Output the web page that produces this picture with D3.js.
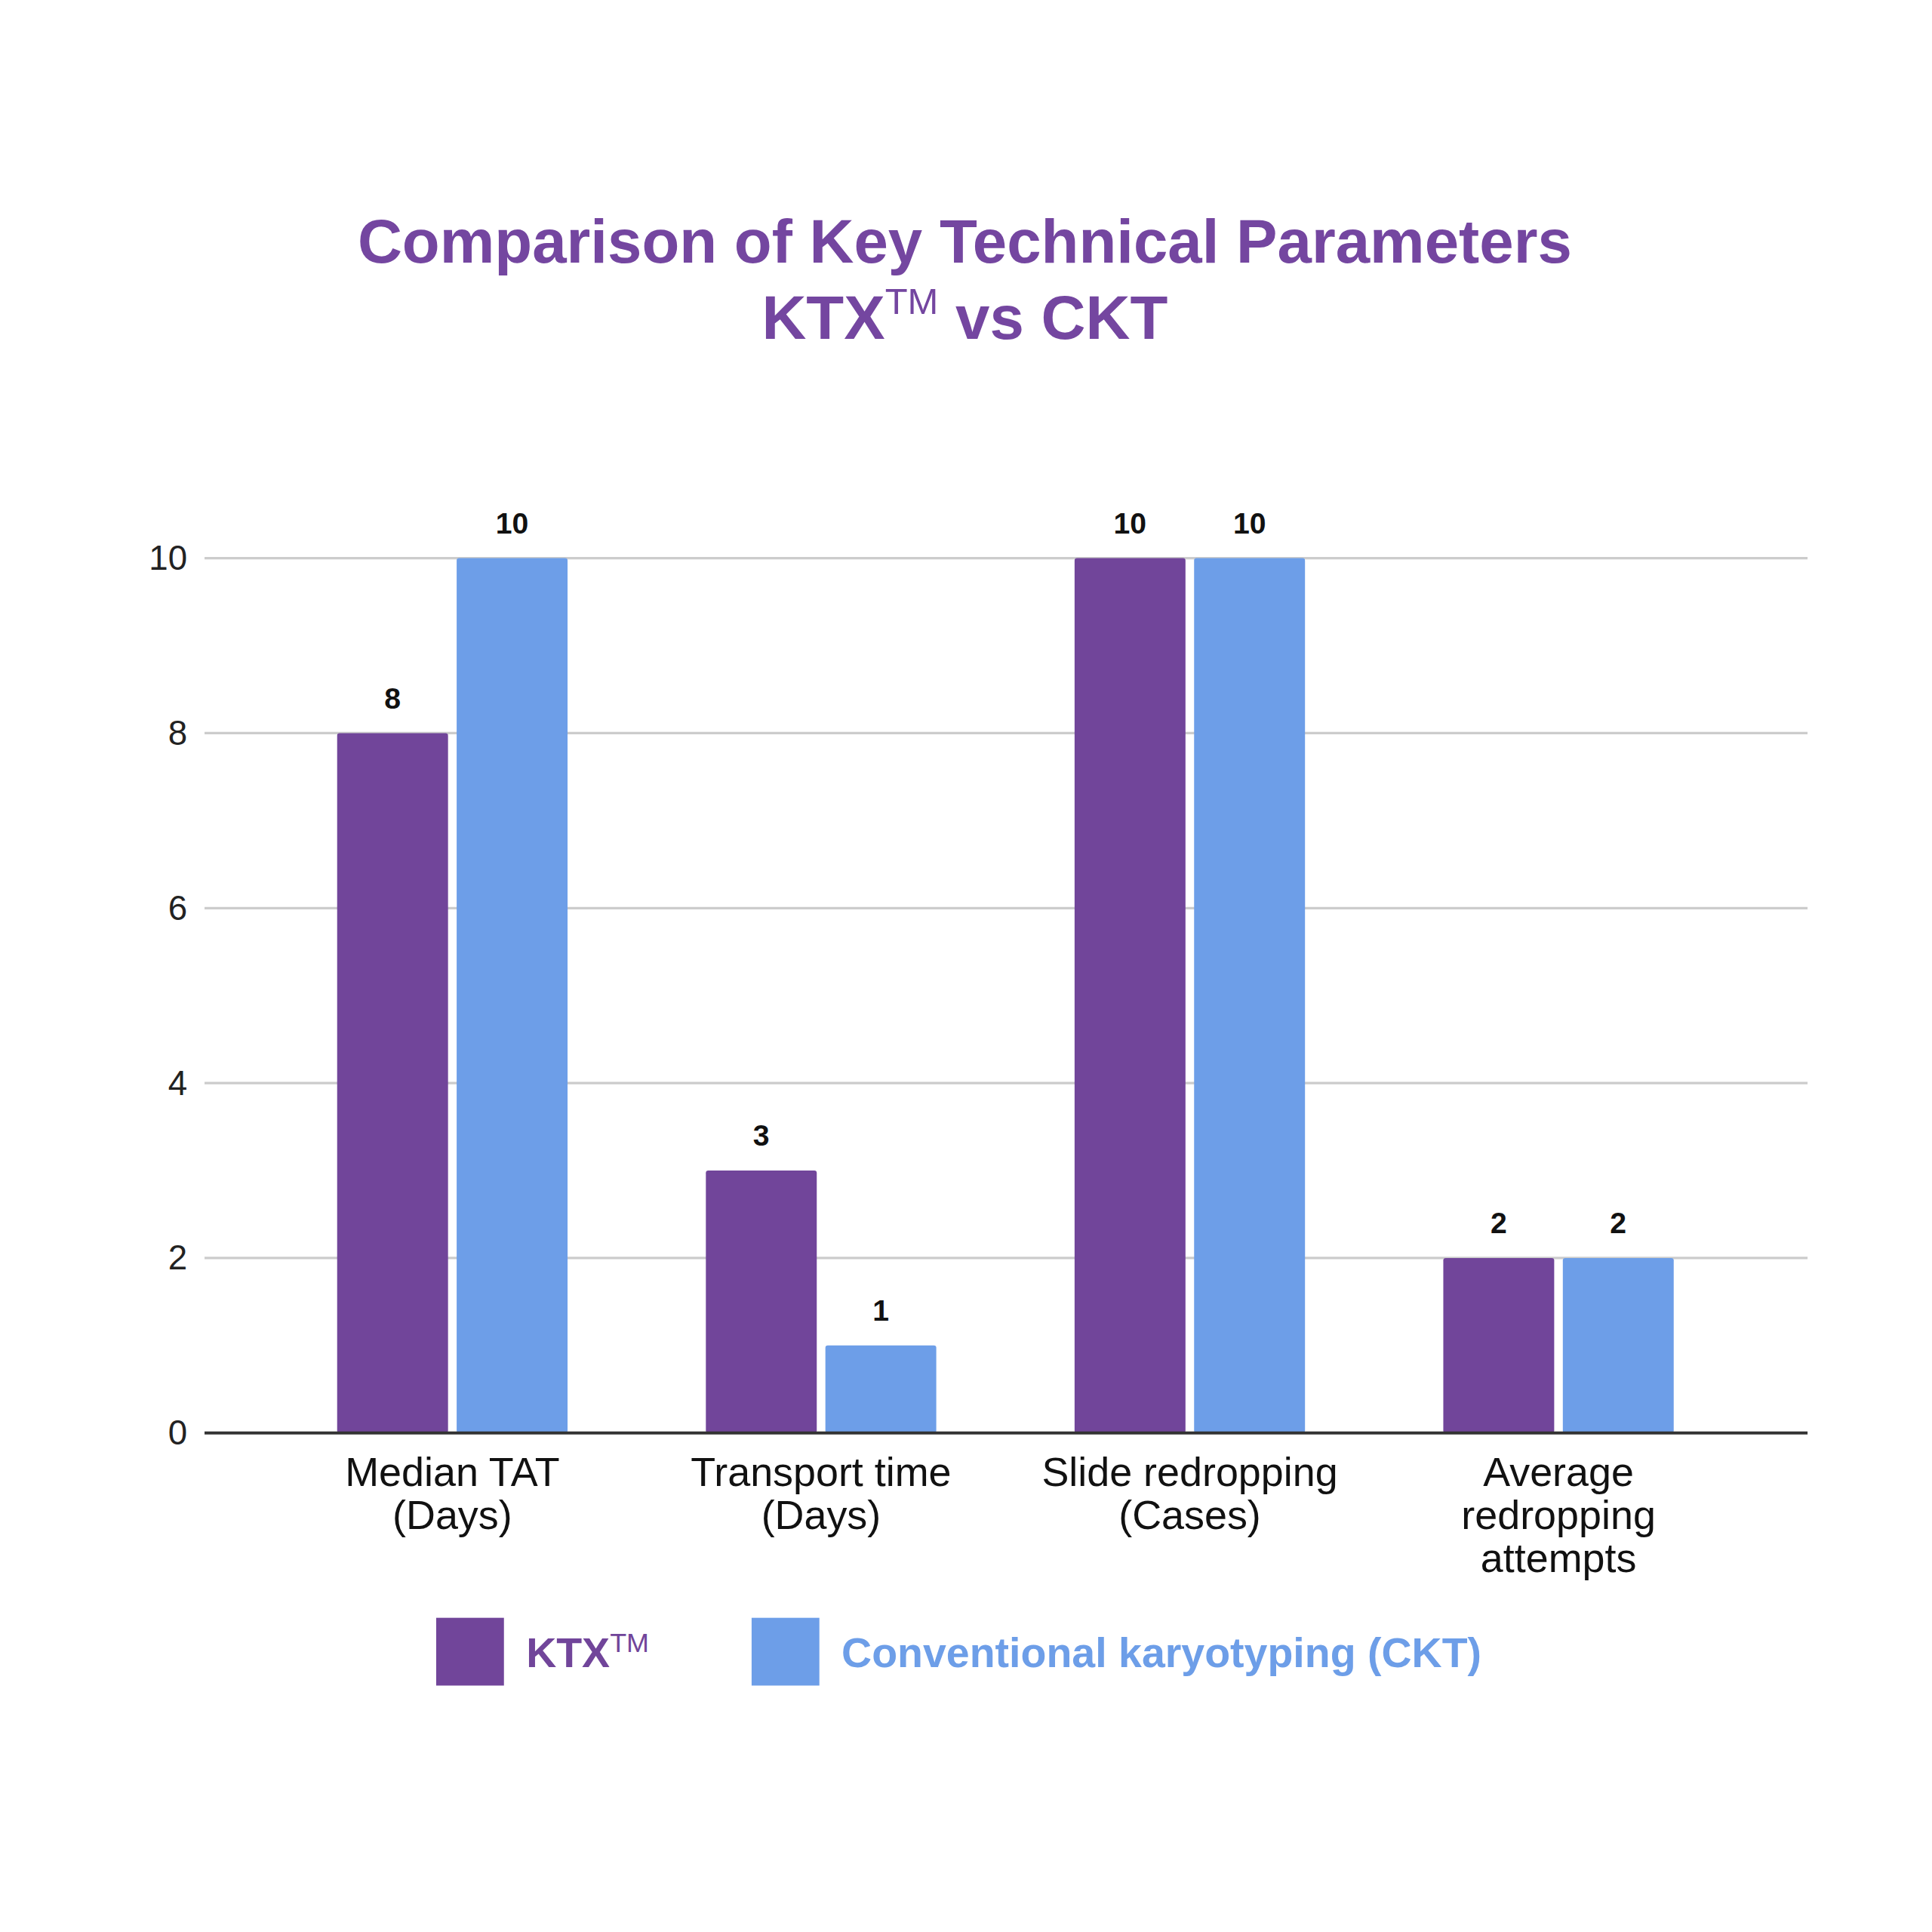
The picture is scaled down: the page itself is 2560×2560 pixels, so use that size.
<!DOCTYPE html>
<html>
<head>
<meta charset="utf-8">
<script src="https://cdn.jsdelivr.net/npm/d3@7"></script>
<style>
  body { margin: 0; background: #fff; }
  text { font-family: 'Liberation Sans', Arial, sans-serif; }
</style>
</head>
<body>
<script>
const categories = [
  ['Median TAT', '(Days)'],
  ['Transport time', '(Days)'],
  ['Slide redropping', '(Cases)'],
  ['Average', 'redropping', 'attempts']
]
const ktxValues = [8, 3, 10, 2]
const cktValues = [10, 1, 10, 2]
const yTicks = [0, 2, 4, 6, 8, 10]

const purple = '#71459a'
const blue = '#6d9ee8'

const svg = d3.select('body').append('svg')
  .attr('width', 2560).attr('height', 2560)
  .attr('viewBox', '0 0 1568 1568')

// title
const title = svg.append('text')
  .attr('text-anchor', 'middle')
  .attr('fill', '#7446a0')
  .attr('font-weight', 'bold')
  .attr('font-size', 50)
title.append('tspan').attr('x', 783).attr('y', 213).text('Comparison of Key Technical Parameters')
const l2 = title.append('tspan').attr('x', 783).attr('y', 275)
l2.append('tspan').text('KTX')
l2.append('tspan').attr('font-size', 30).attr('font-weight', 'normal').attr('dy', -20).text('TM')
l2.append('tspan').attr('dy', 20).text(' vs CKT')

const left = 166, right = 1467
const y = d3.scaleLinear().domain([0, 10]).range([1163, 453])
const x = d3.scaleBand().domain(d3.range(categories.length)).range([217.5, 1414.5])

// grid
svg.append('g').selectAll('line').data(yTicks.filter(d => d > 0)).join('line')
  .attr('x1', left).attr('x2', right)
  .attr('y1', d => y(d)).attr('y2', d => y(d))
  .attr('stroke', '#cccccc').attr('stroke-width', 2)

const yAxis = svg.append('g').attr('transform', `translate(${left},0)`)
  .call(d3.axisLeft(y).tickValues(yTicks).tickSize(0).tickPadding(14))
yAxis.select('.domain').remove()
yAxis.selectAll('text').attr('font-size', 28).attr('fill', '#222')

const bw = 90, gap = 7
const series = [
  { values: ktxValues, color: purple, off: -gap / 2 - bw },
  { values: cktValues, color: blue, off: gap / 2 }
]
series.forEach(s => {
  const g = svg.append('g')
  g.selectAll('rect').data(s.values).join('rect')
    .attr('x', (d, i) => x(i) + x.bandwidth() / 2 + s.off)
    .attr('y', d => y(d))
    .attr('width', bw)
    .attr('height', d => y(0) - y(d))
    .attr('rx', 2)
    .attr('fill', s.color)
  g.selectAll('text').data(s.values).join('text')
    .attr('x', (d, i) => x(i) + x.bandwidth() / 2 + s.off + bw / 2)
    .attr('y', d => y(d) - 20)
    .attr('text-anchor', 'middle')
    .attr('font-size', 24).attr('font-weight', 'bold').attr('fill', '#111')
    .text(d => d)
})

// baseline
svg.append('line').attr('x1', left).attr('x2', right)
  .attr('y1', y(0)).attr('y2', y(0))
  .attr('stroke', '#333').attr('stroke-width', 2.5)

// category labels
const cl = svg.append('g').selectAll('text').data(categories).join('text')
  .attr('text-anchor', 'middle').attr('font-size', 33).attr('fill', '#111')
cl.selectAll('tspan').data((d, i) => d.map(t => ({ t, i }))).join('tspan')
  .attr('x', d => x(d.i) + x.bandwidth() / 2)
  .attr('y', (d, j) => 1206 + j * 35)
  .text(d => d.t)

// legend
const lg = svg.append('g')
lg.append('rect').attr('x', 354).attr('y', 1313).attr('width', 55).attr('height', 55).attr('fill', purple)
const t1 = lg.append('text').attr('x', 427).attr('y', 1353)
  .attr('font-size', 34).attr('font-weight', 'bold').attr('fill', purple)
t1.append('tspan').text('KTX')
t1.append('tspan').attr('font-size', 22).attr('font-weight', 'normal').attr('dy', -12).text('TM')
lg.append('rect').attr('x', 610).attr('y', 1313).attr('width', 55).attr('height', 55).attr('fill', blue)
lg.append('text').attr('x', 683).attr('y', 1353)
  .attr('font-size', 34).attr('font-weight', 'bold').attr('fill', blue)
  .text('Conventional karyotyping (CKT)')
</script>
</body>
</html>
